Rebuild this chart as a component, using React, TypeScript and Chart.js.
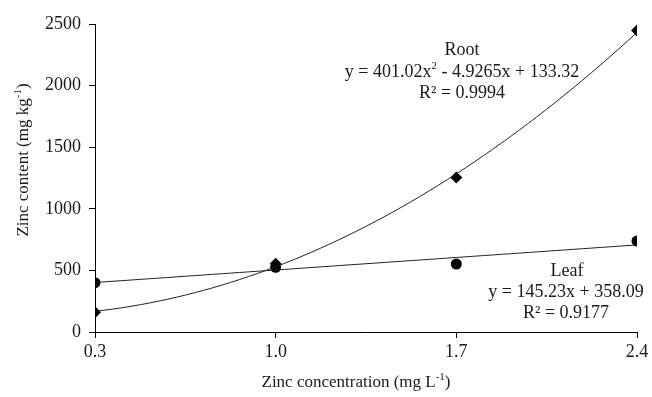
import React, { useEffect, useRef } from "react";
import { Chart, registerables } from "chart.js";

Chart.register(...registerables);

// ---- data ----
const concentrations = [0.3, 1.0, 1.7, 2.4];
const xTickLabels = ["0.3", "1.0", "1.7", "2.4"];
const rootValues = [160, 553, 1255, 2447];
const leafValues = [400, 525, 552, 738];
const yTicks = [0, 500, 1000, 1500, 2000, 2500];

// trendline coefficients as printed on the chart
const rootFit = [401.02, -4.9265, 133.32]; // a x^2 + b x + c
const leafFit = [145.23, 358.09]; // m x + k

const FONT = "'Liberation Serif', 'Times New Roman', serif";
const TXT = 18;

type Seg = { t: string; sup?: boolean };

function drawRich(ctx: CanvasRenderingContext2D, segs: Seg[], cx: number, cy: number, size: number) {
  const supSize = Math.round(size * 0.62);
  let total = 0;
  for (const s of segs) {
    ctx.font = `${s.sup ? supSize : size}px ${FONT}`;
    total += ctx.measureText(s.t).width;
  }
  let x = cx - total / 2;
  ctx.textBaseline = "middle";
  ctx.textAlign = "left";
  for (const s of segs) {
    ctx.font = `${s.sup ? supSize : size}px ${FONT}`;
    ctx.fillText(s.t, x, s.sup ? cy - size * 0.33 : cy);
    x += ctx.measureText(s.t).width;
  }
}

const annotationPlugin = {
  id: "annotations",
  afterDraw(chart: any) {
    const ctx = chart.ctx as CanvasRenderingContext2D;
    ctx.save();
    ctx.fillStyle = "#1a1a1a";
    // Root block
    drawRich(ctx, [{ t: "Root" }], 462, 50, TXT);
    drawRich(ctx, [{ t: "y = 401.02x" }, { t: "2", sup: true }, { t: " - 4.9265x + 133.32" }], 462, 72, TXT);
    drawRich(ctx, [{ t: "R² = 0.9994" }], 462, 93, TXT);
    // Leaf block
    drawRich(ctx, [{ t: "Leaf" }], 567, 271, TXT);
    drawRich(ctx, [{ t: "y = 145.23x + 358.09" }], 566, 292, TXT);
    drawRich(ctx, [{ t: "R² = 0.9177" }], 566, 313, TXT);
    // x axis title
    drawRich(ctx, [{ t: "Zinc concentration (mg L" }, { t: "-1", sup: true }, { t: ")" }], 356, 383, 17);
    // y axis title
    ctx.translate(24, 160);
    ctx.rotate(-Math.PI / 2);
    drawRich(ctx, [{ t: "Zinc content (mg kg" }, { t: "-1", sup: true }, { t: ")" }], 0, 0, 17);
    ctx.restore();
  },
};

function curvePoints(fn: (x: number) => number) {
  const pts: { x: number; y: number }[] = [];
  const x0 = concentrations[0];
  const x1 = concentrations[concentrations.length - 1];
  const n = 60;
  for (let i = 0; i <= n; i++) {
    const x = x0 + ((x1 - x0) * i) / n;
    pts.push({ x, y: fn(x) });
  }
  return pts;
}

export default function App() {
  const ref = useRef<HTMLCanvasElement>(null);
  useEffect(() => {
    const canvas = ref.current!;
    const rootCurve = curvePoints((x) => rootFit[0] * x * x + rootFit[1] * x + rootFit[2]);
    const leafCurve = curvePoints((x) => leafFit[0] * x + leafFit[1]);
    const chart = new Chart(canvas, {
      type: "scatter",
      data: {
        datasets: [
          {
            label: "Root trend",
            data: rootCurve,
            showLine: true,
            borderColor: "#222",
            borderWidth: 1,
            pointRadius: 0,
          },
          {
            label: "Leaf trend",
            data: leafCurve,
            showLine: true,
            borderColor: "#222",
            borderWidth: 1,
            pointRadius: 0,
          },
          {
            label: "Leaf",
            data: concentrations.map((x, i) => ({ x, y: leafValues[i] })),
            pointStyle: "circle",
            pointRadius: 5.5,
            backgroundColor: "#000",
            borderColor: "#000",
            borderWidth: 0,
          },
          {
            label: "Root",
            data: concentrations.map((x, i) => ({ x, y: rootValues[i] })),
            pointStyle: "rectRot",
            pointRadius: 6,
            backgroundColor: "#000",
            borderColor: "#000",
            borderWidth: 0,
          },
        ],
      },
      options: {
        animation: false,
        responsive: true,
        maintainAspectRatio: false,
        layout: { padding: { left: 0, right: 15, top: 24, bottom: 0 } },
        plugins: { legend: { display: false }, tooltip: { enabled: false } },
        scales: {
          x: {
            type: "linear",
            min: concentrations[0],
            max: concentrations[concentrations.length - 1],
            afterBuildTicks: (s: any) => {
              s.ticks = concentrations.map((v) => ({ value: v }));
            },
            afterFit: (s: any) => {
              s.height = 65;
            },
            ticks: {
              color: "#1a1a1a",
              font: { family: FONT, size: TXT },
              padding: 3,
              maxRotation: 0,
              callback: (v: any, i: number) => xTickLabels[i],
            },
            grid: { display: true, drawOnChartArea: false, drawTicks: true, tickLength: 6, color: "#000" },
            border: { display: true, color: "#000", width: 1 },
          },
          y: {
            type: "linear",
            min: 0,
            max: yTicks[yTicks.length - 1],
            afterBuildTicks: (s: any) => {
              s.ticks = yTicks.map((v) => ({ value: v }));
            },
            afterFit: (s: any) => {
              s.width = 95;
            },
            ticks: {
              color: "#1a1a1a",
              font: { family: FONT, size: TXT },
              padding: 8,
              callback: (v: any) => String(v),
            },
            grid: { display: true, drawOnChartArea: false, drawTicks: true, tickLength: 6, color: "#000" },
            border: { display: true, color: "#000", width: 1 },
          },
        },
      },
      plugins: [annotationPlugin],
    });
    return () => chart.destroy();
  }, []);
  return (
    <div style={{ position: "fixed", left: 0, top: 0, width: 652, height: 397, background: "#fff" }}>
      <canvas ref={ref} />
    </div>
  );
}
